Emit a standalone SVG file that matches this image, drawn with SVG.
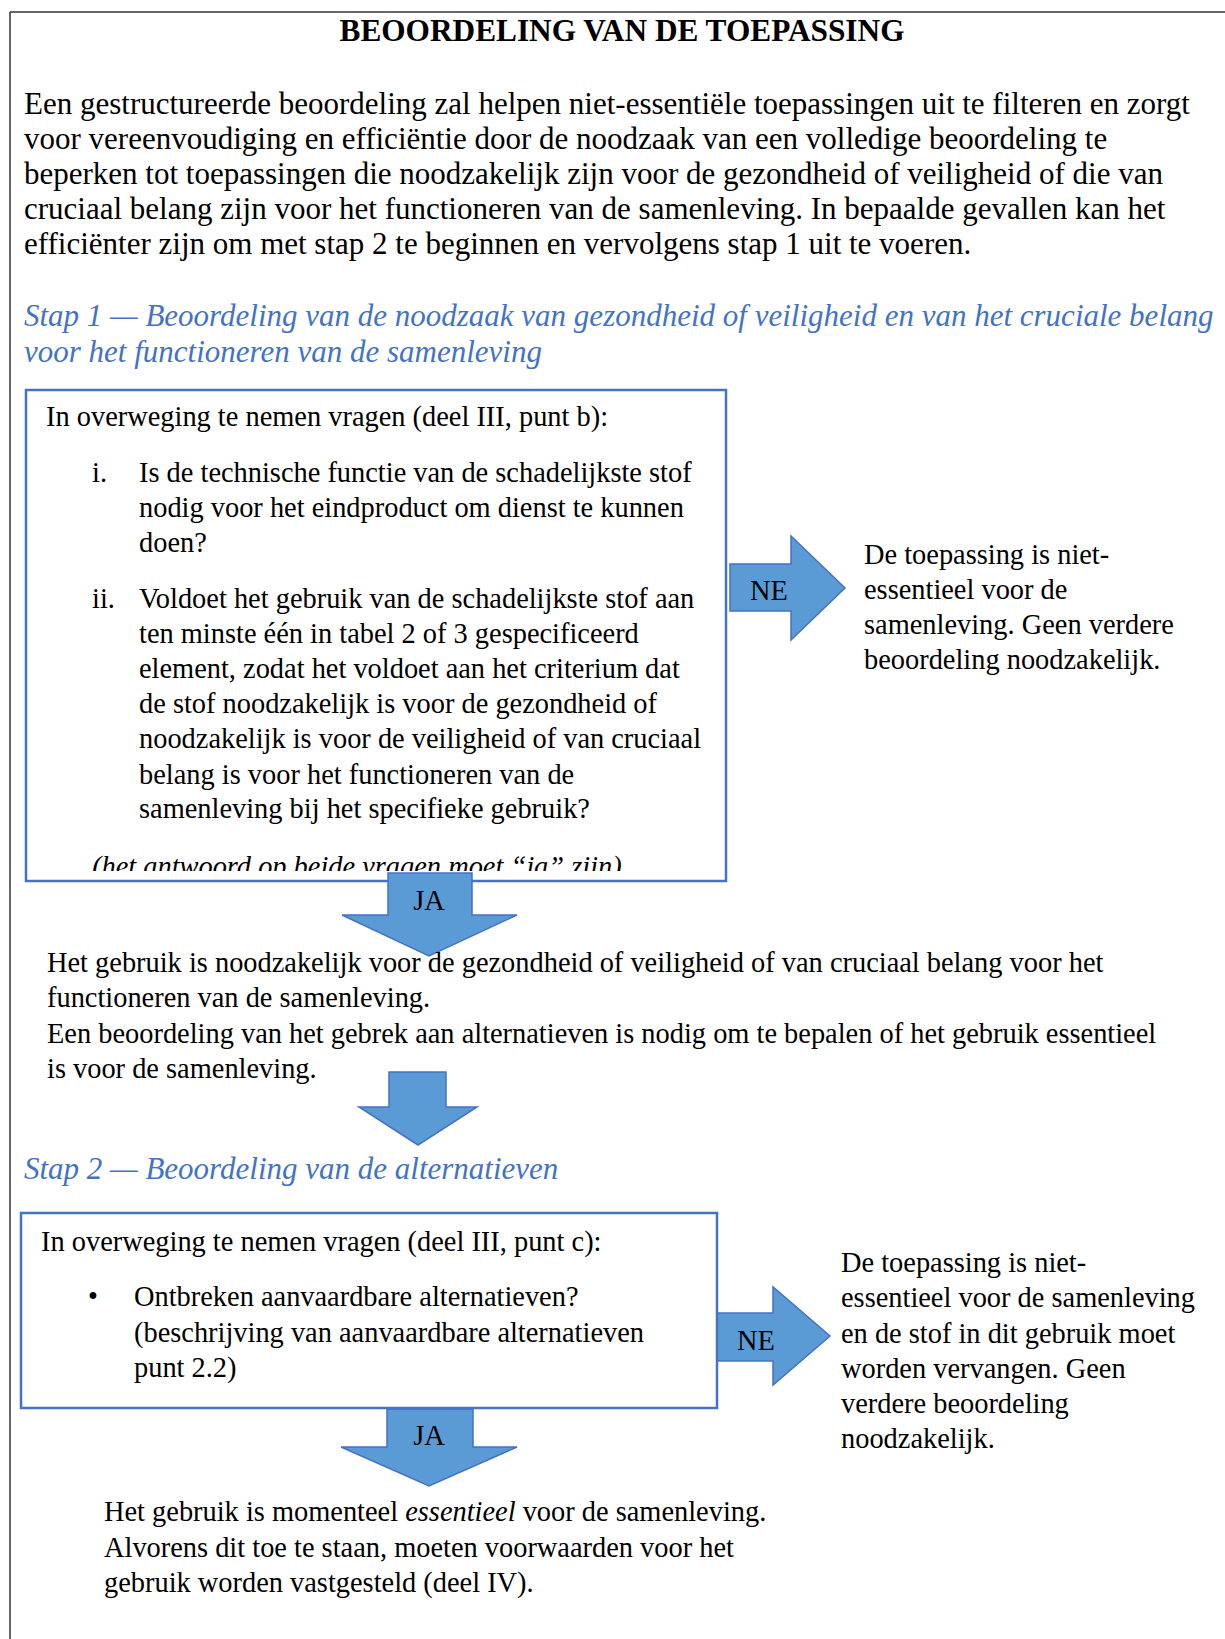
<svg xmlns="http://www.w3.org/2000/svg" width="1225" height="1639" viewBox="0 0 1225 1639">
<style>
text{font-family:"Liberation Serif","Times New Roman",serif;font-size:28.4px;fill:#000}
.t{font-weight:bold;font-size:31.3px}
.big{font-size:31px}
.h{fill:#4472C4;font-style:italic;font-size:31px}
.it{font-style:italic}
.box{fill:#fff;stroke:#4472C4;stroke-width:2.5}
.arr{fill:#5B9BD5;stroke:#4472C4;stroke-width:1.5}
.lbl{text-anchor:middle}
</style>
<defs>
<clipPath id="c1"><rect x="26" y="390" width="700" height="481"/></clipPath>
</defs>
<rect width="1225" height="1639" fill="#fff"/>
<path d="M10,12 H1225 M10,12 V1639" fill="none" stroke="#333" stroke-width="1.5"/>
<g id="title">
<text class="t lbl" x="622" y="41">BEOORDELING VAN DE TOEPASSING</text>
</g>
<g id="intro">
<text class="big" x="24" y="114">Een gestructureerde beoordeling zal helpen niet-essentiële toepassingen uit te filteren en zorgt</text>
<text class="big" x="24" y="149">voor vereenvoudiging en efficiëntie door de noodzaak van een volledige beoordeling te</text>
<text class="big" x="24" y="184">beperken tot toepassingen die noodzakelijk zijn voor de gezondheid of veiligheid of die van</text>
<text class="big" x="24" y="219">cruciaal belang zijn voor het functioneren van de samenleving. In bepaalde gevallen kan het</text>
<text class="big" x="24" y="254">efficiënter zijn om met stap 2 te beginnen en vervolgens stap 1 uit te voeren.</text>
</g>
<g id="stap1-heading">
<text class="h" x="24" y="326">Stap 1 — Beoordeling van de noodzaak van gezondheid of veiligheid en van het cruciale belang</text>
<text class="h" x="24" y="362">voor het functioneren van de samenleving</text>
</g>
<g id="box1">
<rect class="box" x="26" y="390" width="700" height="491"/>
<text x="46" y="426">In overweging te nemen vragen (deel III, punt b):</text>
<text x="92" y="482">i.</text>
<text x="139" y="482">Is de technische functie van de schadelijkste stof</text>
<text x="139" y="517">nodig voor het eindproduct om dienst te kunnen</text>
<text x="139" y="552">doen?</text>
<text x="92" y="608">ii.</text>
<text x="139" y="608">Voldoet het gebruik van de schadelijkste stof aan</text>
<text x="139" y="643">ten minste één in tabel 2 of 3 gespecificeerd</text>
<text x="139" y="678">element, zodat het voldoet aan het criterium dat</text>
<text x="139" y="713">de stof noodzakelijk is voor de gezondheid of</text>
<text x="139" y="748">noodzakelijk is voor de veiligheid of van cruciaal</text>
<text x="139" y="784">belang is voor het functioneren van de</text>
<text x="139" y="818">samenleving bij het specifieke gebruik?</text>
<text class="it" x="92" y="876" clip-path="url(#c1)">(het antwoord op beide vragen moet “ja” zijn)</text>
</g>
<g id="connectors">
<polygon class="arr" points="730,564 791,564 791,536 845,588 791,640 791,611 730,611"/>
<text class="lbl" x="769" y="600">NE</text>
<polygon class="arr" points="388,873 472,873 472,915 517,915 429,956 342,915 388,915"/>
<text class="lbl" x="429" y="910">JA</text>
<polygon class="arr" points="389,1072 446,1072 446,1107 477,1107 418,1145 359,1107 389,1107"/>
<polygon class="arr" points="716,1313 773,1313 773,1287 830,1336 773,1385 773,1361 716,1361"/>
<text class="lbl" x="756" y="1350">NE</text>
<polygon class="arr" points="387,1409 473,1409 473,1447 517,1447 429,1486 341,1447 387,1447"/>
<text class="lbl" x="429" y="1445">JA</text>
</g>
<g id="result1">
<text x="864" y="564">De toepassing is niet-</text>
<text x="864" y="599">essentieel voor de</text>
<text x="864" y="634">samenleving. Geen verdere</text>
<text x="864" y="669">beoordeling noodzakelijk.</text>
</g>
<g id="mid">
<text x="47" y="972">Het gebruik is noodzakelijk voor de gezondheid of veiligheid of van cruciaal belang voor het</text>
<text x="47" y="1007">functioneren van de samenleving.</text>
<text x="47" y="1043">Een beoordeling van het gebrek aan alternatieven is nodig om te bepalen of het gebruik essentieel</text>
<text x="47" y="1078">is voor de samenleving.</text>
</g>
<g id="stap2-heading">
<text class="h" x="24" y="1179">Stap 2 — Beoordeling van de alternatieven</text>
</g>
<g id="box2">
<rect class="box" x="21" y="1213" width="696" height="195"/>
<text x="41" y="1251">In overweging te nemen vragen (deel III, punt c):</text>
<text x="88" y="1306">•</text>
<text x="134" y="1306">Ontbreken aanvaardbare alternatieven?</text>
<text x="134" y="1342">(beschrijving van aanvaardbare alternatieven</text>
<text x="134" y="1377">punt 2.2)</text>
</g>
<g id="result2">
<text x="841" y="1272">De toepassing is niet-</text>
<text x="841" y="1307">essentieel voor de samenleving</text>
<text x="841" y="1343">en de stof in dit gebruik moet</text>
<text x="841" y="1378">worden vervangen. Geen</text>
<text x="841" y="1413">verdere beoordeling</text>
<text x="841" y="1448">noodzakelijk.</text>
</g>
<g id="final">
<text x="104" y="1521">Het gebruik is momenteel <tspan class="it">essentieel</tspan> voor de samenleving.</text>
<text x="104" y="1557">Alvorens dit toe te staan, moeten voorwaarden voor het</text>
<text x="104" y="1592">gebruik worden vastgesteld (deel IV).</text>
</g>
</svg>
